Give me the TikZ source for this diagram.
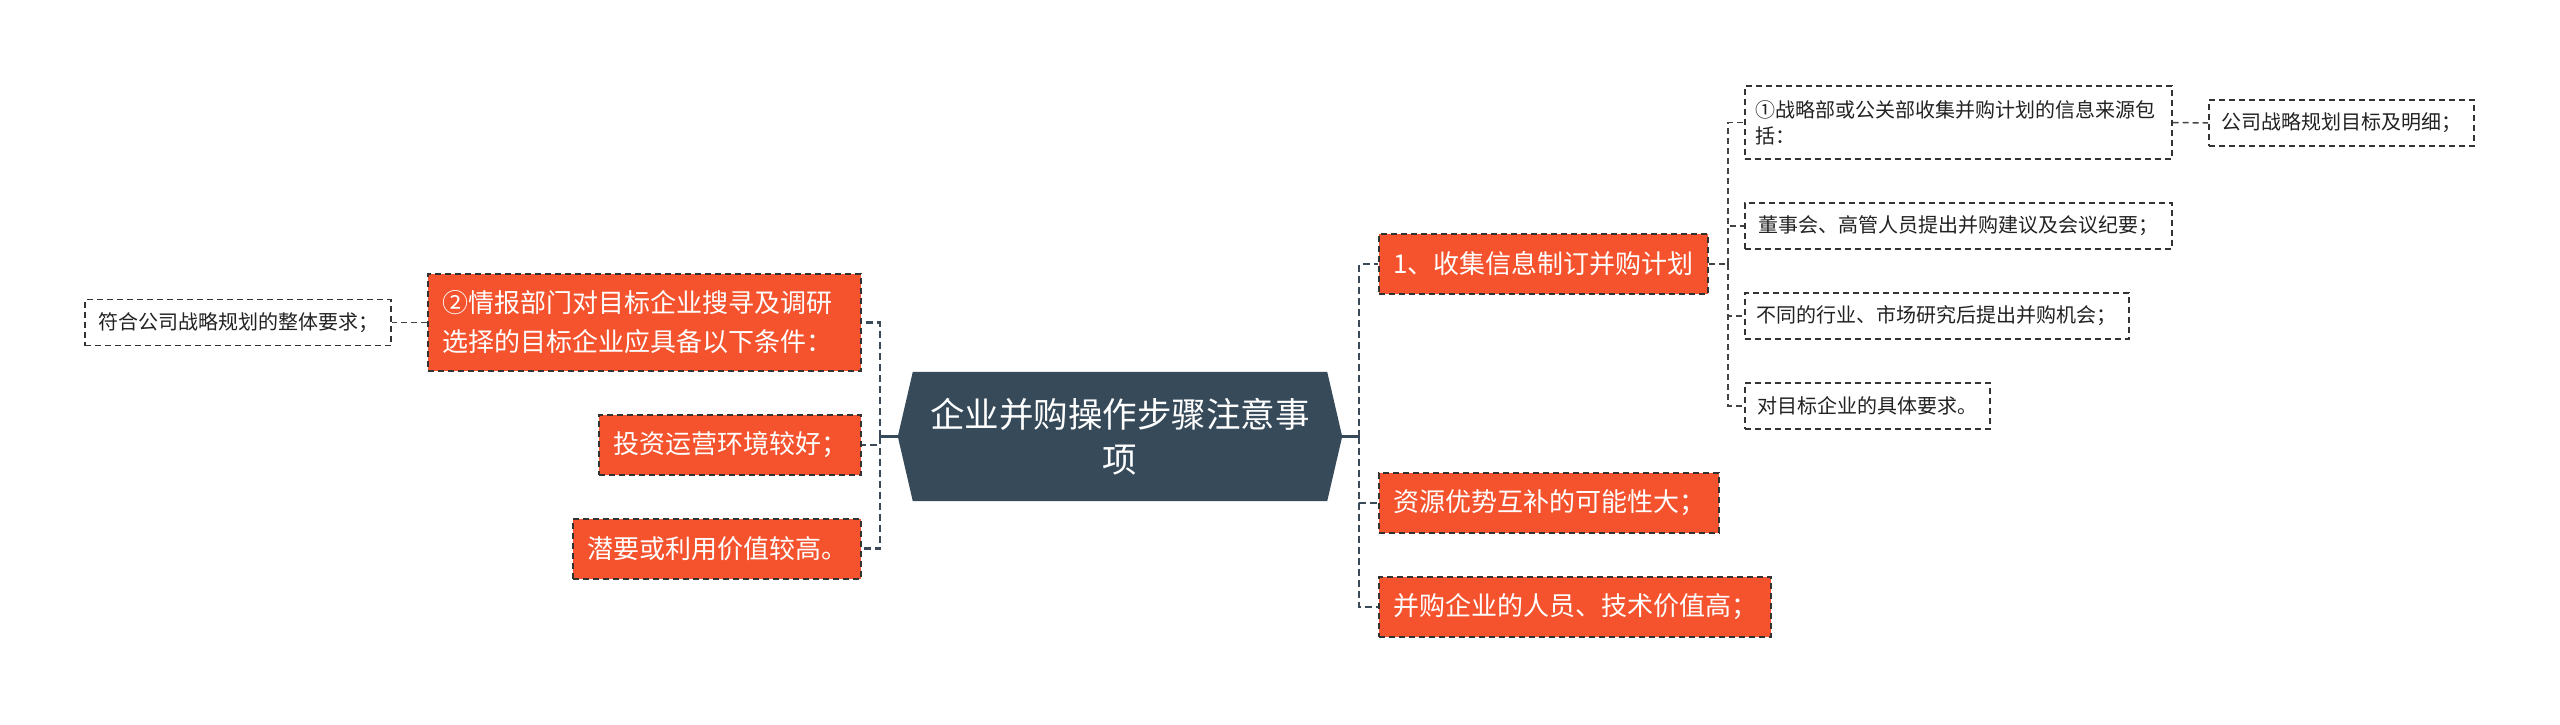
\documentclass[tikz,border=0pt]{standalone}
\usepackage{fontspec}
\setmainfont{Noto Sans CJK SC}
\usetikzlibrary{calc}
\pgfdeclarelayer{background}
\pgfsetlayers{background,main}
\definecolor{rootc}{HTML}{364A5A}
\definecolor{orangec}{HTML}{F4532E}
\definecolor{bordc}{HTML}{333333}
\definecolor{linec}{HTML}{3A4A58}
\definecolor{twigc}{HTML}{444444}
\definecolor{txtc}{HTML}{222222}
\begin{document}
\begin{tikzpicture}[x=1pt,y=-1pt,
  rootbox/.style={inner sep=0pt, minimum width=444pt, minimum height=129pt, text=white,
    font=\fontsize{34.5}{45}\selectfont, align=center},
  lvone/.style={fill=orangec, draw=bordc, line width=2pt, dash pattern=on 6pt off 4pt,
    text=white, font=\fontsize{26}{39}\selectfont, minimum height=60pt, inner xsep=14pt, inner ysep=0pt},
  lvtwo/.style={fill=white, draw=bordc, line width=1.6pt, dash pattern=on 6pt off 4pt,
    text=txtc, font=\fontsize{20}{26}\selectfont, minimum height=46pt, inner xsep=11pt, inner ysep=0pt},
  trunk/.style={draw=rootc, line width=2.5pt},
  branch/.style={draw=linec, line width=2.5pt, dash pattern=on 7pt off 4pt},
  twig/.style={draw=twigc, line width=1.5pt, dash pattern=on 6pt off 4pt}
]
\useasboundingbox (0,0) rectangle (2560,725);

% root
\node[rootbox] (root) at (1120,436.5) {企业并购操作步骤注意事\\项};

% right side level 1
\node[lvone, anchor=west, minimum width=329pt] (B1) at (1378,264) {1、收集信息制订并购计划};
\node[lvone, anchor=west, minimum width=340pt] (B2) at (1378,503) {资源优势互补的可能性大；};
\node[lvone, anchor=west, minimum width=392pt] (B3) at (1378,607) {并购企业的人员、技术价值高；};

% right side level 2
\node[lvtwo, anchor=west, minimum width=427pt, minimum height=73pt, text width=405pt, align=left] (C1) at (1744,122.5) {①战略部或公关部收集并购计划的信息来源包\\括：};
\node[lvtwo, anchor=west, minimum width=427pt] (C2) at (1744,226) {董事会、高管人员提出并购建议及会议纪要；};
\node[lvtwo, anchor=west, minimum width=384pt] (C3) at (1744,316) {不同的行业、市场研究后提出并购机会；};
\node[lvtwo, anchor=west, minimum width=245pt] (C4) at (1744,406) {对目标企业的具体要求。};
\node[lvtwo, anchor=west, minimum width=265pt] (D1) at (2208,123) {公司战略规划目标及明细；};

% left side
\node[lvone, anchor=east, minimum width=433pt, minimum height=97pt, text width=405pt, align=left] (A2) at (862,322.5) {②情报部门对目标企业搜寻及调研\\选择的目标企业应具备以下条件：};
\node[lvone, anchor=east, minimum width=261pt] (A3) at (862,445) {投资运营环境较好；};
\node[lvone, anchor=east, minimum width=287pt] (A4) at (862,548.5) {潜要或利用价值较高。};
\node[lvtwo, anchor=east, minimum width=306pt] (L21) at (392,322.5) {符合公司战略规划的整体要求；};

\coordinate (jR) at ([xshift=17pt]root.east);
\coordinate (jL) at ([xshift=-18pt]root.west);
\coordinate (jB) at ([xshift=19pt]B1.east);

\begin{pgfonlayer}{background}
  \fill[rootc] ([xshift=15pt]root.north west) -- ([xshift=-15pt]root.north east) -- (root.east)
    -- ([xshift=-15pt]root.south east) -- ([xshift=15pt]root.south west) -- (root.west) -- cycle;
  \draw[trunk] (root.east) -- (jR);
  \draw[trunk] (root.west) -- (jL);
  \draw[branch] (jR) |- (B1.west);
  \draw[branch] (jR) |- (B2.west);
  \draw[branch] (jR) |- (B3.west);
  \draw[branch] (jL) |- (A2.east);
  \draw[branch] (jL) |- (A3.east);
  \draw[branch] (jL) |- (A4.east);
  \draw[twig] (B1.east) -- (jB);
  \draw[twig] (jB) |- (C1.west);
  \draw[twig] (jB) |- (C2.west);
  \draw[twig] (jB) |- (C3.west);
  \draw[twig] (jB) |- (C4.west);
  \draw[twig] (C1.east) -- (D1.west);
  \draw[twig] (A2.west) -- (L21.east);
\end{pgfonlayer}
\end{tikzpicture}
\end{document}
